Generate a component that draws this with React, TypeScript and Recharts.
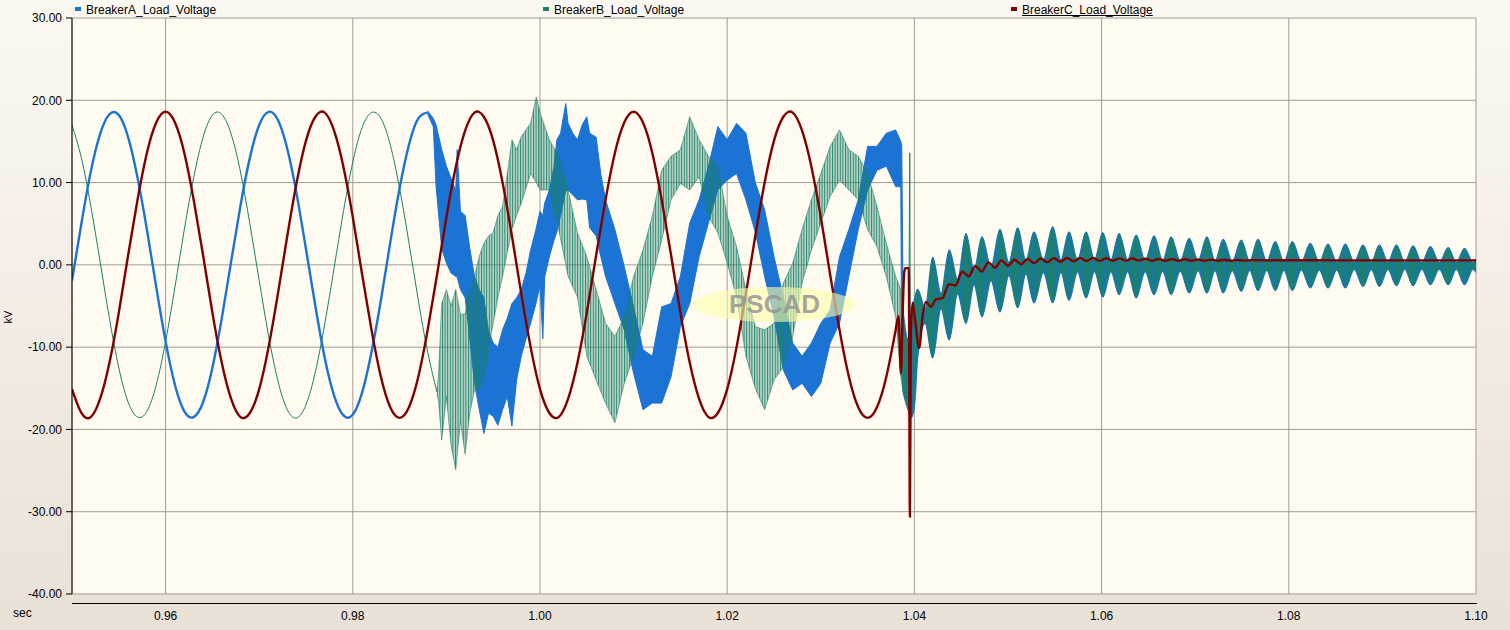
import { ComposedChart, Line, Area, XAxis, YAxis, CartesianGrid } from 'recharts'

const FONT = '"Liberation Sans", Arial, sans-serif'
const BLUE = '#1b73d3'
const GREEN = '#1a8068'
const RED = '#800000'

const SERIES_NAMES = ['BreakerA_Load_Voltage', 'BreakerB_Load_Voltage', 'BreakerC_Load_Voltage']
const X_TICKS = [0.96, 0.98, 1.0, 1.02, 1.04, 1.06, 1.08, 1.1]
const Y_TICKS = [-40, -30, -20, -10, 0, 10, 20, 30]

// healthy waveforms, read every 1 ms starting at 0.950 s (kV)
const WAVE_START = 0.95
const WAVE_STEP = 0.001
const BREAKER_A_WAVE = [
  -1.9, 5.0, 11.3, 15.9, 18.3, 18.2, 15.5, 10.6, 4.3, -2.7, -9.3, -14.6, -17.8, -18.5, -16.7, -12.5, -6.5, 0.4, 7.2, 13.0,
  17.0, 18.6, 17.6, 14.1, 8.6, 1.9, -5.0, -11.3, -15.9, -18.3, -18.2, -15.5, -10.6, -4.3, 2.7, 9.3, 14.6, 17.8, 18.5,
]
const BREAKER_B_WAVE = [
  17.0, 13.0, 7.2, 0.4, -6.5, -12.5, -16.7, -18.5, -17.8, -14.6, -9.3, -2.7, 4.3, 10.6, 15.5, 18.2, 18.3, 15.9, 11.3, 5.0,
  -1.9, -8.6, -14.1, -17.6, -18.6, -17.0, -13.0, -7.2, -0.4, 6.5, 12.5, 16.7, 18.5, 17.8, 14.6, 9.3, 2.7, -4.3, -10.6, -15.5,
]
const BREAKER_C_WAVE = [
  -15.1, -18.0, -18.5, -16.3, -11.9, -5.8, 1.2, 7.9, 13.6, 17.3, 18.6, 17.3, 13.6, 7.9, 1.2, -5.8, -11.9, -16.3, -18.5, -18.0,
  -15.1, -10.0, -3.5, 3.5, 10.0, 15.1, 18.0, 18.5, 16.3, 11.9, 5.8, -1.2, -7.9, -13.6, -17.3, -18.6, -17.3, -13.6, -7.9, -1.2,
  5.8, 11.9, 16.3, 18.5, 18.0, 15.1, 10.0, 3.5, -3.5, -10.0, -15.1, -18.0, -18.5, -16.3, -11.9, -5.8, 1.2, 7.9, 13.6, 17.3,
  18.6, 17.3, 13.6, 7.9, 1.2, -5.8, -11.9, -16.3, -18.5, -18.0, -15.1, -10.0, -3.5, 3.5, 10.0, 15.1, 18.0, 18.5, 16.3, 11.9,
  5.8, -1.2, -7.9, -13.6, -17.3, -18.6, -17.3, -13.6, -7.9,
]

// [sec, min kV, max kV] of the noisy traces during the fault
const BREAKER_A_FAULT: [number, number, number][] = [
  [0.988, 18.3, 18.7], [0.9886, 16.8, 17.8], [0.9889, 9.5, 17.0], [0.9895, 2.0, 14.0], [0.99, 0.2, 12.0],
  [0.9905, -1.0, 10.5], [0.991, -1.4, 9.0], [0.99115, -1.5, 14.0], [0.9915, -3.0, 6.5], [0.992, -4.0, 6.0],
  [0.9925, -9.0, 2.0], [0.993, -14.4, -1.4], [0.9935, -17.5, -3.0], [0.994, -20.5, -4.0], [0.9945, -18.0, -8.0],
  [0.995, -18.4, -9.5], [0.9955, -19.5, -10.0], [0.996, -17.6, -7.9], [0.9965, -16.0, -6.5], [0.997, -19.6, -4.7],
  [0.9975, -14.0, -4.0], [0.998, -11.1, -3.0], [0.9985, -9.0, -1.0], [0.999, -7.1, 1.8], [0.9995, -5.0, 4.0],
  [1.0, -2.5, 6.5], [1.0003, -9.0, 6.0], [1.0005, -1.5, 7.5], [1.001, 1.0, 9.1], [1.0015, 3.0, 12.0],
  [1.0018, 4.0, 15.2], [1.0022, 6.0, 16.0], [1.00275, 9.0, 19.6], [1.003, 9.1, 17.2], [1.0035, 8.5, 16.0],
  [1.004, 7.9, 15.2], [1.0045, 8.0, 17.0], [1.005, 7.9, 18.0], [1.0053, 4.5, 16.0], [1.006, 3.5, 15.5],
  [1.0065, 1.0, 11.0], [1.007, -1.4, 7.9], [1.008, -4.7, 4.3], [1.009, -7.9, -0.2], [1.01, -13.2, -5.1],
  [1.011, -17.6, -10.3], [1.012, -16.8, -11.1], [1.013, -16.8, -5.1], [1.014, -13.6, -4.7], [1.015, -7.5, -1.4],
  [1.016, -4.7, 5.1], [1.017, 1.0, 7.9], [1.018, 5.1, 12.0], [1.019, 9.1, 16.8], [1.02, 10.3, 15.2],
  [1.021, 11.1, 17.2], [1.022, 7.9, 16.0], [1.023, 4.0, 10.0], [1.024, -1.4, 6.7], [1.025, -6.3, 1.0],
  [1.026, -12.8, -3.9], [1.027, -15.2, -9.5], [1.028, -14.4, -11.1], [1.029, -16.0, -9.5], [1.03, -14.4, -7.1],
  [1.031, -9.5, -5.5], [1.032, -7.1, 1.0], [1.033, -1.4, 4.3], [1.034, 4.3, 7.9], [1.035, 9.1, 14.4],
  [1.036, 11.5, 14.4], [1.037, 12.0, 16.0], [1.038, 9.5, 16.4], [1.03855, 9.5, 15.0], [1.03865, -13.5, 14.5],
  [1.0388, -15.5, -5.8],
]
const BREAKER_B_FAULT: [number, number, number][] = [
  [0.989, -15.8, -15.2], [0.98915, -16.5, -13.5], [0.9895, -21.3, -4.7], [0.99, -16.0, -3.0], [0.9905, -22.0, -5.0],
  [0.991, -24.9, -3.0], [0.9915, -19.0, -6.0], [0.992, -23.0, -6.0], [0.9925, -18.0, -3.0], [0.993, -15.2, -1.4],
  [0.9935, -15.0, 1.0], [0.994, -14.0, 2.6], [0.9945, -10.0, 3.5], [0.995, -7.1, 3.9], [0.9955, -4.0, 6.0],
  [0.996, -1.4, 7.1], [0.9965, 1.5, 11.0], [0.997, 4.3, 15.2], [0.9975, 6.0, 14.0], [0.998, 7.5, 15.6],
  [0.999, 11.1, 17.2], [0.9996, 10.0, 20.4], [1.0, 9.1, 18.5], [1.001, 9.1, 15.2], [1.002, 4.3, 13.2],
  [1.003, -1.4, 9.1], [1.004, -3.9, 3.9], [1.005, -11.1, 1.0], [1.006, -14.0, -3.0], [1.007, -16.8, -7.1],
  [1.008, -19.2, -8.7], [1.009, -14.4, -6.3], [1.01, -11.1, -1.4], [1.011, -7.1, 1.8], [1.012, -1.4, 5.9],
  [1.013, 3.0, 11.5], [1.014, 7.9, 13.2], [1.015, 9.9, 14.0], [1.016, 9.1, 18.0], [1.017, 10.7, 15.2],
  [1.018, 5.9, 13.2], [1.019, 3.9, 12.0], [1.02, 0.2, 5.9], [1.021, -3.9, 2.2], [1.022, -11.1, -3.0],
  [1.023, -15.0, -7.5], [1.024, -17.6, -7.9], [1.025, -14.0, -7.1], [1.026, -12.4, -2.2], [1.027, -8.7, 0.2],
  [1.028, -2.2, 4.3], [1.029, 1.8, 7.9], [1.03, 5.1, 11.1], [1.031, 8.3, 14.4], [1.032, 10.3, 16.4],
  [1.033, 9.1, 14.0], [1.034, 7.9, 13.2], [1.035, 4.3, 11.1], [1.036, 2.2, 7.1], [1.037, -1.4, 2.6],
  [1.038, -6.3, -1.4], [1.03855, -13.6, -3.0], [1.0388, -15.5, -5.8],
]
const BREAKER_B_SPIKE: [number, number][] = [[1.0394, -9.0], [1.0395, 13.6], [1.03956, -8.0]]

// [sec, min kV, max kV] envelope of A and B after clearing (the two traces coincide)
const AB_RECOVERY: [number, number, number][] = [
  [1.0388, -15.5, -5.8], [1.0393, -17.5, -9.0], [1.0397, -18.5, -6.0], [1.04005, -16.5, -4.0], [1.04034, -11.3, -3.0],
  [1.04115, -7.1, -5.3], [1.04195, -11.3, 0.9], [1.04284, -5.3, -3.5], [1.04372, -9.1, 1.8], [1.04462, -3.5, -1.8],
  [1.04551, -7.1, 3.8], [1.04637, -2.4, -0.7], [1.04722, -6.3, 3.4], [1.04818, -1.9, -0.3], [1.04914, -5.7, 4.3],
  [1.05009, -1.3, 0.3], [1.05104, -5.2, 4.5], [1.05191, -1.1, 0.5], [1.05278, -4.6, 4.0], [1.05378, -0.9, 0.6],
  [1.05478, -4.6, 4.6], [1.05565, -0.9, 0.6], [1.05652, -4.3, 4.0], [1.05743, -0.85, 0.55], [1.05834, -4.0, 4.0],
  [1.05924, -0.8, 0.6], [1.06013, -3.9, 3.9], [1.061, -0.8, 0.6], [1.06187, -3.6, 3.8], [1.06278, -0.8, 0.6],
  [1.06369, -4.0, 3.6], [1.06465, -0.8, 0.5], [1.06561, -3.6, 3.5], [1.06652, -0.75, 0.5], [1.06743, -3.6, 3.4],
  [1.0684, -0.75, 0.45], [1.06936, -3.4, 3.2], [1.07031, -0.7, 0.45], [1.07125, -3.4, 3.4], [1.07212, -0.7, 0.45],
  [1.07299, -3.4, 3.1], [1.07396, -0.7, 0.4], [1.07492, -3.2, 3.0], [1.07582, -0.65, 0.4], [1.07671, -3.1, 3.1],
  [1.07764, -0.65, 0.4], [1.07856, -3.1, 2.8], [1.07947, -0.65, 0.35], [1.08038, -3.1, 2.8], [1.08134, -0.6, 0.35],
  [1.0823, -2.8, 2.6], [1.08325, -0.6, 0.3], [1.08419, -2.8, 2.5], [1.08512, -0.6, 0.3], [1.08604, -2.8, 2.5],
  [1.08699, -0.55, 0.3], [1.08793, -2.6, 2.4], [1.08881, -0.55, 0.3], [1.08968, -2.6, 2.4], [1.09059, -0.55, 0.3],
  [1.0915, -2.5, 2.4], [1.09239, -0.5, 0.3], [1.09328, -2.5, 2.3], [1.09421, -0.5, 0.25], [1.09513, -2.4, 2.2],
  [1.09608, -0.5, 0.25], [1.09703, -2.4, 2.1], [1.0979, -0.5, 0.25], [1.09877, -2.4, 2.0], [1.09968, -0.5, 0.25],
  [1.1, -0.9, 0.7],
]

// [sec, kV] breaker C from the fault onwards
const BREAKER_C_RECOVERY: [number, number][] = [
  [1.038, -7.9], [1.0383, -6.2], [1.03856, -13.2], [1.03877, -5.0], [1.03891, -0.9], [1.03905, -0.4], [1.0394, -0.4],
  [1.03952, -30.6], [1.03963, -8.0], [1.03981, -4.6], [1.04005, -6.5], [1.04051, -10.1], [1.04087, -6.3],
  [1.04123, -4.5], [1.04176, -5.1], [1.0423, -4.2], [1.043, -4.05], [1.0437, -2.35], [1.0444, -2.5], [1.0451, -0.8],
  [1.0458, -1.4], [1.0465, -0.15], [1.0472, -0.8], [1.0479, 0.3], [1.0486, -0.35], [1.0493, 0.55], [1.05, -0.1],
  [1.0507, 0.62], [1.0514, 0.08], [1.0521, 0.71], [1.0528, 0.21], [1.0535, 0.78], [1.0542, 0.3], [1.0549, 0.82],
  [1.0556, 0.37], [1.0563, 0.84], [1.057, 0.42], [1.0577, 0.84], [1.0584, 0.46], [1.0591, 0.83], [1.0598, 0.48],
  [1.0605, 0.81], [1.0612, 0.5], [1.0619, 0.79], [1.0626, 0.51], [1.0633, 0.77], [1.064, 0.52], [1.0647, 0.74],
  [1.0654, 0.5], [1.0661, 0.72], [1.0668, 0.5], [1.0675, 0.7], [1.0682, 0.5], [1.0689, 0.68], [1.0696, 0.5],
  [1.0703, 0.66], [1.071, 0.5], [1.0717, 0.64], [1.0724, 0.5], [1.0731, 0.62], [1.0738, 0.5], [1.0745, 0.6],
  [1.0752, 0.52], [1.076, 0.58], [1.078, 0.55], [1.08, 0.56], [1.085, 0.55], [1.09, 0.55], [1.095, 0.55], [1.1, 0.55],
]

const wave = (vals: number[]) => vals.map((v, i) => ({ t: +(WAVE_START + i * WAVE_STEP).toFixed(4), v }))
const band = (rows: [number, number, number][]) => rows.map(([t, lo, hi]) => ({ t, v: [lo, hi] }))
const pts = (rows: [number, number][]) => rows.map(([t, v]) => ({ t, v }))

const LEGEND = [
  { name: SERIES_NAMES[0], color: BLUE, left: 75 },
  { name: SERIES_NAMES[1], color: GREEN, left: 543 },
  { name: SERIES_NAMES[2], color: RED, left: 1011, underline: true },
]

export default function App() {
  const off = { isAnimationActive: false, dot: false, activeDot: false } as const
  return (
    <div
      style={{
        position: 'absolute', left: 0, top: 0, width: 1510, height: 630, overflow: 'hidden',
        background: 'linear-gradient(#fcf8f2, #e9e1d6)', fontFamily: FONT,
      }}
    >
      <ComposedChart width={1510} height={630} margin={{ top: 18, right: 34, bottom: 0, left: 8 }} style={{ fontFamily: FONT }}>
        <defs>
          {/* dense vertical strokes, like the oversampled noise of trace B */}
          <pattern id="hatchB" width="2.6" height="8" patternUnits="userSpaceOnUse">
            <rect width="2.6" height="8" fill={GREEN} fillOpacity={0.3} />
            <rect width="1" height="8" fill={GREEN} fillOpacity={0.9} />
          </pattern>
          <pattern id="hatchAB" width="2.4" height="8" patternUnits="userSpaceOnUse">
            <rect width="2.4" height="8" fill={GREEN} />
            <rect width="0.8" height="8" fill={BLUE} fillOpacity={0.45} />
          </pattern>
        </defs>
        <CartesianGrid fill="#fffbf0" stroke="#a29c94" />
        <XAxis
          type="number" dataKey="t" domain={[0.95, 1.1]} ticks={X_TICKS} allowDataOverflow
          axisLine={false} tickLine={false} tickMargin={11} height={36}
          tick={{ fill: '#000', fontSize: 12 }} tickFormatter={(v: number) => v.toFixed(2)}
        />
        <YAxis
          type="number" domain={[-40, 30]} ticks={Y_TICKS} width={64} allowDataOverflow
          stroke="#000" tickSize={6} tickMargin={4}
          tick={{ fill: '#000', fontSize: 12 }} tickFormatter={(v: number) => v.toFixed(2)}
        />

        <Line data={wave(BREAKER_A_WAVE)} dataKey="v" type="natural" stroke={BLUE} strokeWidth={2.4} {...off} />
        <Area data={band(BREAKER_A_FAULT)} dataKey="v" type="linear" stroke={BLUE} strokeWidth={1} fill={BLUE} fillOpacity={1} {...off} />
        <Area data={band(AB_RECOVERY)} dataKey="v" type="monotone" stroke={BLUE} strokeWidth={1.4} fill={BLUE} fillOpacity={1} {...off} />

        <Line data={wave(BREAKER_B_WAVE)} dataKey="v" type="natural" stroke={GREEN} strokeWidth={1} {...off} />
        <Area data={band(BREAKER_B_FAULT)} dataKey="v" type="linear" stroke={GREEN} strokeWidth={0.7} strokeOpacity={0.8} fill="url(#hatchB)" fillOpacity={1} {...off} />
        <Area data={band(AB_RECOVERY)} dataKey="v" type="monotone" stroke="none" fill="url(#hatchAB)" fillOpacity={0.92} {...off} />
        <Line data={pts(BREAKER_B_SPIKE)} dataKey="v" type="linear" stroke={GREEN} strokeWidth={1} {...off} />

        <Line data={wave(BREAKER_C_WAVE)} dataKey="v" type="natural" stroke={RED} strokeWidth={2.4} {...off} />
        <Line data={pts(BREAKER_C_RECOVERY)} dataKey="v" type="monotone" stroke={RED} strokeWidth={2.4} {...off} />
      </ComposedChart>

      {/* x axis line sits a little below the plot */}
      <div style={{ position: 'absolute', left: 72, top: 603, width: 1405, height: 1, background: '#000' }} />

      {LEGEND.map((l) => (
        <div key={l.name} style={{ position: 'absolute', left: l.left, top: 3, height: 14, whiteSpace: 'nowrap' }}>
          <span style={{ position: 'absolute', left: 0, top: 4, width: 6, height: 4, background: l.color }} />
          <span
            style={{
              position: 'absolute', left: 11, top: 0, fontSize: 12, lineHeight: '14px', color: '#000',
              textDecoration: l.underline ? 'underline' : 'none',
            }}
          >
            {l.name}
          </span>
        </div>
      ))}

      <div style={{ position: 'absolute', left: 13, top: 606, fontSize: 12, lineHeight: '14px', color: '#000' }}>sec</div>
      <div
        style={{
          position: 'absolute', left: 0, top: 310, width: 16, height: 14, fontSize: 11, lineHeight: '14px',
          textAlign: 'center', transform: 'rotate(-90deg)', color: '#000',
        }}
      >
        kV
      </div>

      {/* PSCAD watermark */}
      <div
        style={{
          position: 'absolute', left: 693, top: 287, width: 162, height: 35, borderRadius: '50%',
          background: 'rgba(255,255,170,0.6)', pointerEvents: 'none',
        }}
      />
      <div
        style={{
          position: 'absolute', left: 729, top: 289, fontSize: 26, fontWeight: 'bold', lineHeight: '30px',
          color: 'rgba(150,150,150,0.85)', pointerEvents: 'none',
        }}
      >
        PSCAD
      </div>
    </div>
  )
}
